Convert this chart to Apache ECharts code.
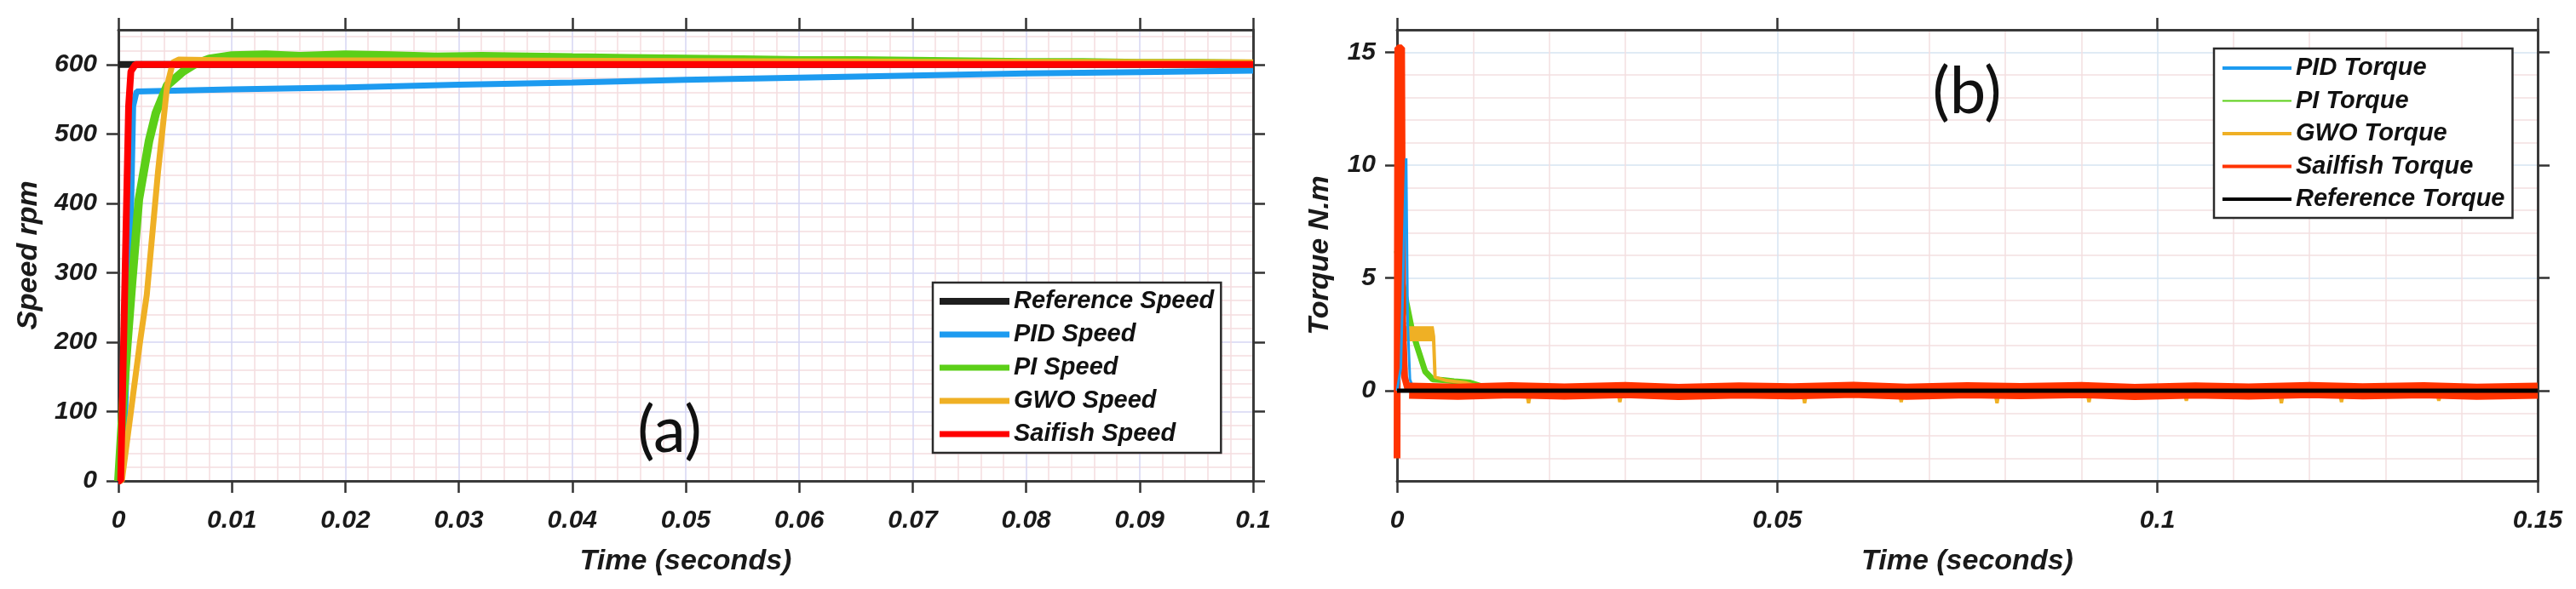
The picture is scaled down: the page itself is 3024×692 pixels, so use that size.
<!DOCTYPE html>
<html>
<head>
<meta charset="utf-8">
<script src="https://cdn.jsdelivr.net/npm/echarts@6/dist/echarts.min.js"></script>
<style>
html, body { margin: 0; padding: 0; background: #fff; }
#chart { width: 3024px; height: 692px; }
</style>
</head>
<body>
<div id="chart"></div>
<script>
// ---- (a) speed, rpm ----
var speedTicks = [0, 100, 200, 300, 400, 500, 600];

var refSpeedTime = [0, 0.1];
var refSpeed = [600, 600];

var pidSpeedTime = [0, 0.0006, 0.0011, 0.0013, 0.0016, 0.01, 0.02, 0.03, 0.04, 0.05, 0.06, 0.07, 0.08, 0.09, 0.1];
var pidSpeed = [0, 100, 380, 540, 561, 564, 567, 571, 574, 578, 581, 584, 587, 589, 591];

var piSpeedTime = [0, 0.0004, 0.0008, 0.0012, 0.0018, 0.0027, 0.0033, 0.0043, 0.0057, 0.0067, 0.008, 0.01, 0.013, 0.016,
    0.02, 0.024, 0.028, 0.032, 0.036, 0.04, 0.045, 0.05, 0.055, 0.06, 0.065, 0.07, 0.075, 0.08, 0.085, 0.09, 0.095, 0.1];
var piSpeed = [0, 110, 200, 285, 405, 490, 530, 570, 590, 600, 608, 613, 614, 612,
    614, 613, 611, 612, 611, 610, 609, 608, 607, 606, 606, 605, 604, 603, 603, 602, 602, 601];

var gwoSpeedTime = [0, 0.0003, 0.0019, 0.0025, 0.0035, 0.0043, 0.0048, 0.0053, 0.01, 0.03, 0.05, 0.07, 0.1];
var gwoSpeed = [0, 0, 200, 268, 447, 570, 603, 607, 606, 606, 605, 604, 603];

var sfSpeedTime = [0, 0.0002, 0.0009, 0.0011, 0.0015, 0.1];
var sfSpeed = [0, 0, 540, 590, 600, 600];

// ---- (b) torque, N.m ----
var torqueTicks = [0, 5, 10, 15];

var pidTorqueTime = [0, 0.0005, 0.0012, 0.0013, 0.0014, 0.0017, 0.0022, 0.15];
var pidTorque = [0, 1, 10.3, 10.3, 3, 0.5, 0.05, 0.05];

var piTorqueTime = [0, 0.0004, 0.0013, 0.0019, 0.0026, 0.0037, 0.0047, 0.006, 0.0075, 0.0096, 0.012, 0.15];
var piTorque = [6.2, 5.3, 3.8, 2.8, 2.0, 0.85, 0.5, 0.47, 0.42, 0.36, 0.1, 0.05];

var gwoTorqueTime = [0, 0.0002, 0.0004, 0.0006, 0.0008, 0.001, 0.0012, 0.0014, 0.0016, 0.0018, 0.002, 0.0022,
    0.0024, 0.0026, 0.0028, 0.003, 0.0032, 0.0034, 0.0036, 0.0038, 0.004, 0.0042, 0.0044, 0.0046, 0.0048,
    0.005, 0.0065, 0.009, 0.012,
    0.017, 0.0173, 0.0176, 0.029, 0.0293, 0.0296, 0.0533, 0.0536, 0.0539, 0.066, 0.0663, 0.0666,
    0.0786, 0.0789, 0.0792, 0.0907, 0.091, 0.0913, 0.1035, 0.1038, 0.1041, 0.116, 0.1163, 0.1166,
    0.1239, 0.1242, 0.1245, 0.1367, 0.137, 0.1373, 0.15];
var gwoTorque = [0, 2.5, 2.2, 2.85, 2.2, 2.85, 2.2, 2.85, 2.2, 2.85, 2.2, 2.85,
    2.2, 2.85, 2.2, 2.85, 2.2, 2.85, 2.2, 2.85, 2.2, 2.85, 2.2, 2.85, 2.4,
    0.6, 0.45, 0.35, 0.05,
    0, -0.55, 0, 0, -0.5, 0, 0, -0.55, 0, 0, -0.5, 0,
    0, -0.55, 0, 0, -0.5, 0, 0, -0.45, 0, 0, -0.55, 0,
    0, -0.5, 0, 0, -0.45, 0, 0];

var sfTorqueTime = [0, 0.0001, 0.0006, 0.00075, 0.001, 0.0014, 0.002];
var sfTorque = [-3, 15.2, 15.2, 3, 0.6, 0.1, 0.05];

var sfBandTime = [0.0016, 0.008, 0.015, 0.022, 0.03, 0.037, 0.045, 0.052, 0.06, 0.067, 0.075,
    0.082, 0.09, 0.097, 0.105, 0.112, 0.12, 0.127, 0.135, 0.142, 0.15];
var sfBand = [0, -0.05, 0.02, -0.04, 0.03, -0.06, 0.01, -0.03, 0.04, -0.05, 0.02,
    -0.02, 0.03, -0.06, 0.01, -0.04, 0.03, -0.03, 0.02, -0.05, 0];

var refTorqueTime = [0, 0.15];
var refTorque = [0, 0];

var FONT = "'Liberation Sans', Arial, Helvetica, sans-serif";
var AXIS_COLOR = '#3a3a3a';

function zip(t, v) {
    return t.map(function (x, i) { return [x, v[i]]; });
}

var tickText = {
    fontSize: 30, fontWeight: 'bold', fontStyle: 'italic', color: '#1a1a1a', fontFamily: FONT
};
var nameText = {
    fontSize: 34, fontWeight: 'bold', fontStyle: 'italic', color: '#1a1a1a', fontFamily: FONT
};

// visible frame axis (line + outward ticks)
function frameAxis(o) {
    var a = {
        type: 'value',
        axisLine: { show: true, onZero: false, lineStyle: { color: AXIS_COLOR, width: 3 } },
        axisTick: { show: true, length: 14, lineStyle: { color: '#333', width: 2.5 } },
        axisLabel: { show: false },
        splitLine: { show: false }
    };
    for (var k in o) a[k] = o[k];
    return a;
}

// hidden axis that only draws grid lines
function gridAxis(o, colors) {
    var a = {
        type: 'value',
        axisLine: { show: false },
        axisTick: { show: false },
        axisLabel: { show: false },
        splitLine: { show: true, lineStyle: { color: colors, width: 1.5 } }
    };
    for (var k in o) a[k] = o[k];
    return a;
}

var A_MAJOR = '#d6d6f3', A_MINOR = '#f4dcdf';
var B_MAJOR = '#d6e5f2', B_MINOR = '#f3dfe0';

var xAxis = [
    frameAxis({
        gridIndex: 0, position: 'bottom', min: 0, max: 0.1, interval: 0.01,
        axisLabel: Object.assign({ show: true, margin: 32 }, tickText),
        name: 'Time (seconds)', nameLocation: 'middle', nameGap: 78, nameTextStyle: nameText
    }),
    gridAxis({ gridIndex: 0, position: 'bottom', min: 0, max: 0.1, interval: 0.002 },
        [A_MAJOR, A_MINOR, A_MINOR, A_MINOR, A_MINOR]),
    frameAxis({ gridIndex: 0, position: 'top', min: 0, max: 0.1, interval: 0.01 }),
    frameAxis({
        gridIndex: 1, position: 'bottom', min: 0, max: 0.15, interval: 0.05,
        axisLabel: Object.assign({ show: true, margin: 32 }, tickText),
        name: 'Time (seconds)', nameLocation: 'middle', nameGap: 78, nameTextStyle: nameText
    }),
    gridAxis({ gridIndex: 1, position: 'bottom', min: 0, max: 0.15, interval: 0.01 },
        [B_MAJOR, B_MINOR, B_MINOR, B_MINOR, B_MINOR]),
    frameAxis({ gridIndex: 1, position: 'top', min: 0, max: 0.15, interval: 0.05 })
];

var yAxis = [
    frameAxis({
        gridIndex: 0, position: 'left', min: 0, max: 650,
        axisTick: { show: true, length: 14, customValues: speedTicks, lineStyle: { color: '#333', width: 2.5 } },
        axisLabel: Object.assign({ show: true, margin: 25, customValues: speedTicks }, tickText),
        name: 'Speed rpm', nameLocation: 'middle', nameGap: 88, nameTextStyle: nameText
    }),
    gridAxis({ gridIndex: 0, position: 'left', min: 0, max: 650, interval: 20 },
        [A_MAJOR, A_MINOR, A_MINOR, A_MINOR, A_MINOR]),
    frameAxis({
        gridIndex: 0, position: 'right', min: 0, max: 650,
        axisTick: { show: true, length: 14, customValues: speedTicks, lineStyle: { color: '#333', width: 2.5 } }
    }),
    frameAxis({
        gridIndex: 1, position: 'left', min: -4, max: 16,
        axisTick: { show: true, length: 14, customValues: torqueTicks, lineStyle: { color: '#333', width: 2.5 } },
        axisLabel: Object.assign({ show: true, margin: 25, customValues: torqueTicks }, tickText),
        name: 'Torque N.m', nameLocation: 'middle', nameGap: 73, nameTextStyle: nameText
    }),
    gridAxis({ gridIndex: 1, position: 'left', min: -4, max: 16, interval: 1 },
        [B_MINOR, B_MINOR, B_MINOR, B_MINOR, B_MAJOR]),
    frameAxis({
        gridIndex: 1, position: 'right', min: -4, max: 16,
        axisTick: { show: true, length: 14, customValues: torqueTicks, lineStyle: { color: '#333', width: 2.5 } }
    })
];

function line(name, xi, yi, t, v, color, width) {
    return {
        name: name, type: 'line', xAxisIndex: xi, yAxisIndex: yi,
        data: zip(t, v), symbol: 'none', showSymbol: false, silent: true,
        lineStyle: { color: color, width: width },
        itemStyle: { color: color }
    };
}

var BLUE = '#1d9bf0', GREEN = '#5ccf18', ORANGE = '#efb025', RED = '#ff0000', REDORANGE = '#ff3300', BLACK = '#1e1e1e';

var series = [
    line('Reference Speed', 0, 0, refSpeedTime, refSpeed, BLACK, 8),
    line('PID Speed', 0, 0, pidSpeedTime, pidSpeed, BLUE, 7),
    line('PI Speed', 0, 0, piSpeedTime, piSpeed, GREEN, 10),
    line('GWO Speed', 0, 0, gwoSpeedTime, gwoSpeed, ORANGE, 7),
    line('Saifish Speed', 0, 0, sfSpeedTime, sfSpeed, RED, 8),

    line('PI Torque', 3, 3, piTorqueTime, piTorque, GREEN, 7),
    line('GWO Torque', 3, 3, gwoTorqueTime, gwoTorque, ORANGE, 4),
    line('Sailfish Torque', 3, 3, sfTorqueTime, sfTorque, REDORANGE, 8),
    line('PID Torque', 3, 3, pidTorqueTime, pidTorque, BLUE, 3),
    line('Sailfish Torque', 3, 3, sfBandTime, sfBand, REDORANGE, 19),
    line('Reference Torque', 3, 3, refTorqueTime, refTorque, '#000', 5)
];

// legend swatch: a bar of given thickness centred in a 14px-high box
function bar(w, th) {
    var y0 = (14 - th) / 2;
    return 'path://M0,0h0.01v0.01z M0,' + y0 + 'h' + w + 'v' + th + 'h-' + w + 'z M0,14h0.01v-0.01z';
}

var legendText = {
    fontSize: 29, fontWeight: 'bold', fontStyle: 'italic', color: '#111', fontFamily: FONT, lineHeight: 30
};

var legend = [{
    orient: 'vertical', left: 1095, top: 332,
    itemWidth: 82, itemHeight: 14, itemGap: 9, itemTextGap: 8,
    padding: [7, 8, 7, 8], backgroundColor: '#fff', borderColor: '#2a2a2a', borderWidth: 2.5,
    selectedMode: false, textStyle: legendText,
    data: [
        { name: 'Reference Speed', icon: bar(82, 8) },
        { name: 'PID Speed', icon: bar(82, 7) },
        { name: 'PI Speed', icon: bar(82, 7) },
        { name: 'GWO Speed', icon: bar(82, 7) },
        { name: 'Saifish Speed', icon: bar(82, 7) }
    ]
}, {
    orient: 'vertical', left: 2599, top: 57,
    itemWidth: 81, itemHeight: 14, itemGap: 8.5, itemTextGap: 9,
    padding: [8, 9, 7, 10], backgroundColor: '#fff', borderColor: '#2a2a2a', borderWidth: 2.5,
    selectedMode: false, textStyle: legendText,
    data: [
        { name: 'PID Torque', icon: bar(81, 4) },
        { name: 'PI Torque', icon: bar(81, 2) },
        { name: 'GWO Torque', icon: bar(81, 4) },
        { name: 'Sailfish Torque', icon: bar(81, 4) },
        { name: 'Reference Torque', icon: bar(81, 4) }
    ]
}];

var option = {
    animation: false,
    backgroundColor: '#fff',
    grid: [
        { left: 139, right: 3024 - 1471, top: 35, bottom: 692 - 565 },
        { left: 1640, right: 3024 - 2979, top: 35, bottom: 692 - 565 }
    ],
    xAxis: xAxis,
    yAxis: yAxis,
    legend: legend,
    series: series,
    graphic: [
        { type: 'text', x: 786, y: 506, z: 100,
          style: { text: '(a)', fontSize: 76, fontFamily: 'Lato, sans-serif', fill: '#111', align: 'center', verticalAlign: 'middle' } },
        { type: 'text', x: 2309, y: 108, z: 100,
          style: { text: '(b)', fontSize: 76, fontFamily: 'Lato, sans-serif', fill: '#111', align: 'center', verticalAlign: 'middle' } }
    ]
};

var myChart = echarts.init(document.getElementById('chart'));
myChart.setOption(option);
</script>
</body>
</html>
